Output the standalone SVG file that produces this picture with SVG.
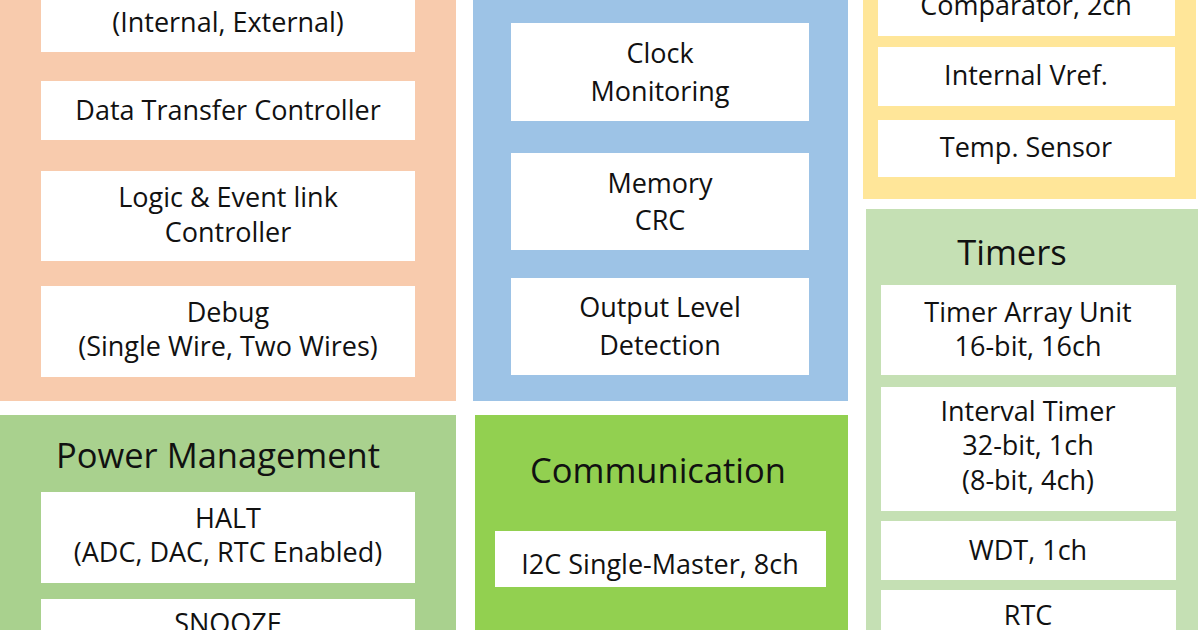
<svg xmlns="http://www.w3.org/2000/svg" width="1200" height="630" viewBox="0 0 1200 630">
<style>
.box{fill:#ffffff}
.t{font-family:"Open Sans","Liberation Sans",sans-serif;font-size:27px;fill:#111111;text-anchor:middle}
.h{font-family:"Open Sans","Liberation Sans",sans-serif;font-size:34.5px;fill:#111111;text-anchor:middle}
</style>
<rect width="1200" height="630" fill="#ffffff"/>
<g id="panel-system">
<rect x="0" y="-10" width="456" height="411" fill="#F8CBAD"/>
<g id="interrupt"><rect class="box" x="41" y="-10" width="374" height="62"/><text class="t" x="228" y="32">(Internal, External)</text></g>
<g id="dtc"><rect class="box" x="41" y="81" width="374" height="59"/><text class="t" x="228" y="120">Data Transfer Controller</text></g>
<g id="elc"><rect class="box" x="41" y="171" width="374" height="90"/><text class="t" x="228" y="207">Logic &amp; Event link</text><text class="t" x="228" y="242">Controller</text></g>
<g id="debug"><rect class="box" x="41" y="286" width="374" height="91"/><text class="t" x="228" y="322">Debug</text><text class="t" x="228" y="356">(Single Wire, Two Wires)</text></g>
</g>
<g id="panel-safety">
<rect x="473" y="-10" width="375" height="411" fill="#9DC3E6"/>
<g id="clockmon"><rect class="box" x="511" y="23" width="298" height="98"/><text class="t" x="660" y="63">Clock</text><text class="t" x="660" y="101">Monitoring</text></g>
<g id="memcrc"><rect class="box" x="511" y="153" width="298" height="97"/><text class="t" x="660" y="193">Memory</text><text class="t" x="660" y="230">CRC</text></g>
<g id="old"><rect class="box" x="511" y="278" width="298" height="97"/><text class="t" x="660" y="317">Output Level</text><text class="t" x="660" y="355">Detection</text></g>
</g>
<g id="panel-analog">
<rect x="863" y="-10" width="333" height="209" fill="#FFE699"/>
<g id="comparator"><rect class="box" x="878" y="-10" width="297" height="46"/><text class="t" x="1026" y="15">Comparator, 2ch</text></g>
<g id="vref"><rect class="box" x="878" y="47" width="297" height="59"/><text class="t" x="1026" y="85">Internal Vref.</text></g>
<g id="temp"><rect class="box" x="878" y="120" width="297" height="57"/><text class="t" x="1026" y="157">Temp. Sensor</text></g>
</g>
<g id="panel-timers">
<rect x="866" y="209" width="332" height="430" fill="#C5E0B4"/>
<text class="h" x="1012" y="265">Timers</text>
<g id="tau"><rect class="box" x="881" y="285" width="295" height="90"/><text class="t" x="1028" y="322">Timer Array Unit</text><text class="t" x="1028" y="356">16-bit, 16ch</text></g>
<g id="interval"><rect class="box" x="881" y="387" width="295" height="124"/><text class="t" x="1028" y="421">Interval Timer</text><text class="t" x="1028" y="455">32-bit, 1ch</text><text class="t" x="1028" y="490">(8-bit, 4ch)</text></g>
<g id="wdt"><rect class="box" x="881" y="521" width="295" height="59"/><text class="t" x="1028" y="560">WDT, 1ch</text></g>
<g id="rtc"><rect class="box" x="881" y="590" width="295" height="50"/><text class="t" x="1028" y="625">RTC</text></g>
</g>
<g id="panel-power">
<rect x="0" y="415" width="456" height="225" fill="#A9D18E"/>
<text class="h" x="218" y="468">Power Management</text>
<g id="halt"><rect class="box" x="41" y="492" width="374" height="91"/><text class="t" x="228" y="528">HALT</text><text class="t" x="228" y="562">(ADC, DAC, RTC Enabled)</text></g>
<g id="snooze"><rect class="box" x="41" y="599" width="374" height="41"/><text class="t" x="228" y="633">SNOOZE</text></g>
</g>
<g id="panel-comm">
<rect x="475" y="415" width="373" height="225" fill="#92D050"/>
<text class="h" x="658" y="483">Communication</text>
<g id="i2c"><rect class="box" x="495" y="531" width="331" height="56"/><text class="t" x="660" y="574">I2C Single-Master, 8ch</text></g>
</g>
<g id="connectors"></g>
</svg>
